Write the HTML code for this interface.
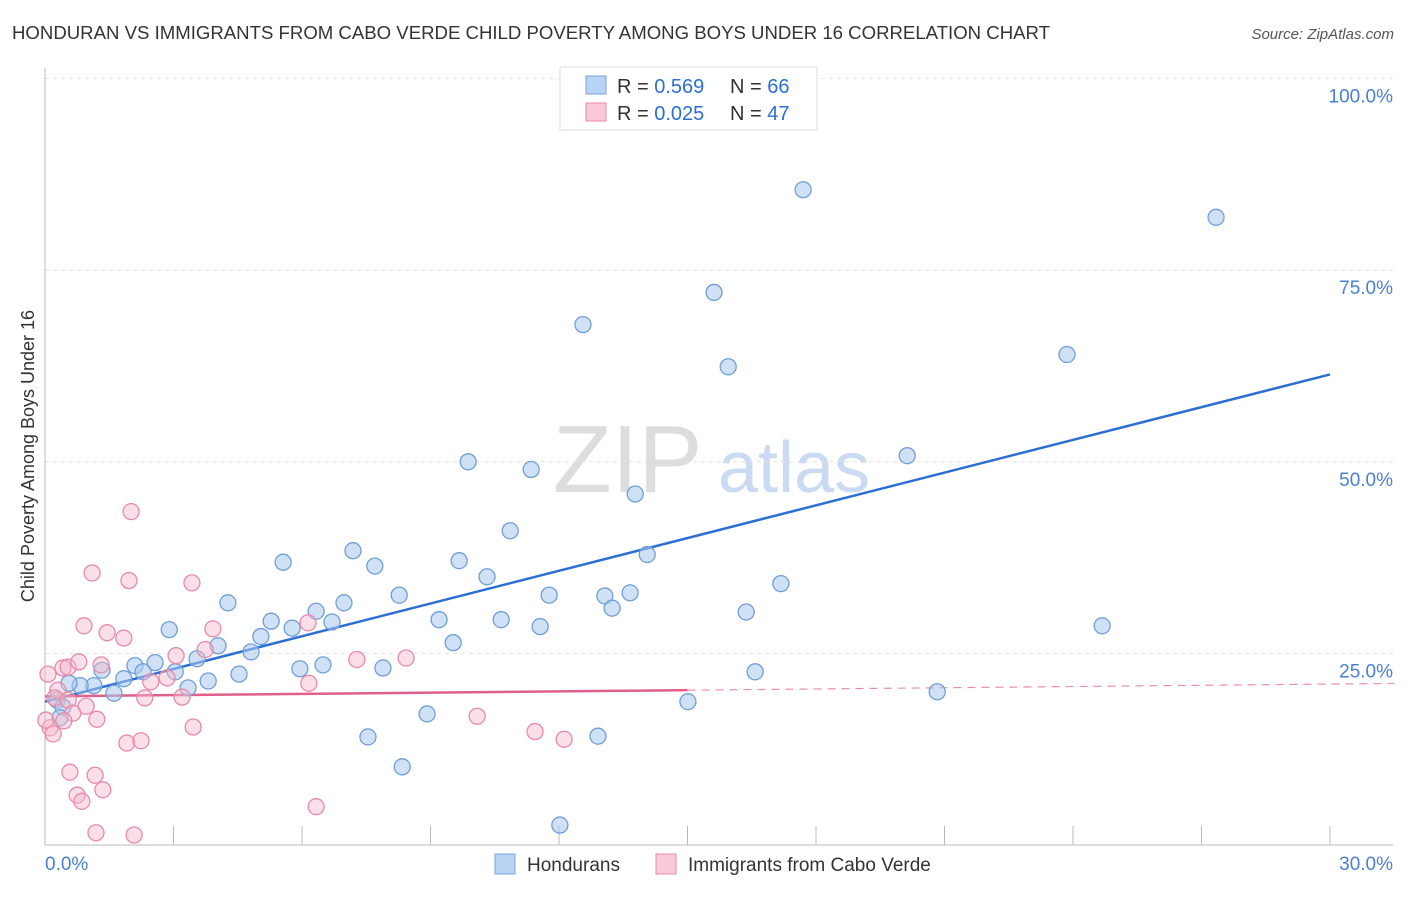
<!DOCTYPE html>
<html><head><meta charset="utf-8"><style>
body{margin:0;background:#fff;font-family:"Liberation Sans",sans-serif;}
svg text{font-family:"Liberation Sans",sans-serif;}
</style></head><body>
<svg id="chart" width="1406" height="892" xmlns="http://www.w3.org/2000/svg">
<text x="12" y="39" font-size="18" fill="#333" textLength="1038" lengthAdjust="spacingAndGlyphs">HONDURAN VS IMMIGRANTS FROM CABO VERDE CHILD POVERTY AMONG BOYS UNDER 16 CORRELATION CHART</text>
<text x="1394" y="39" font-size="15" fill="#555" text-anchor="end" font-style="italic">Source: ZipAtlas.com</text>
<text transform="translate(34,456) rotate(-90)" font-size="18" fill="#333" text-anchor="middle">Child Poverty Among Boys Under 16</text>
<g>
<text x="553" y="492" font-size="96" fill="#ddd" font-family="Liberation Serif,serif">ZIP</text>
<text x="718" y="492" font-size="72" fill="#c9daf2">atlas</text>
</g>
<g id="grid"></g><g id="axes"></g><g id="trend"></g><g id="pts"></g>
<g>
<rect x="560" y="67" width="257" height="63" fill="#fff" stroke="#ddd"/>
<rect x="586" y="76" width="20" height="18" fill="#b9d3f5" stroke="#7aa6de"/>
<text x="617" y="93" font-size="20" fill="#333">R = <tspan fill="#2b6fd6">0.569</tspan></text>
<text x="730" y="93" font-size="20" fill="#333">N = <tspan fill="#2b6fd6">66</tspan></text>
<rect x="586" y="103" width="20" height="18" fill="#f9c9d8" stroke="#e88aa8"/>
<text x="617" y="120" font-size="20" fill="#333">R = <tspan fill="#2b6fd6">0.025</tspan></text>
<text x="730" y="120" font-size="20" fill="#333">N = <tspan fill="#2b6fd6">47</tspan></text>
</g>
<g>
<rect x="495" y="854" width="20" height="20" fill="#b9d3f5" stroke="#7aa6de"/>
<text x="527" y="871" font-size="19" fill="#333">Hondurans</text>
<rect x="656" y="854" width="20" height="20" fill="#f9c9d8" stroke="#e88aa8"/>
<text x="688" y="871" font-size="19" fill="#333">Immigrants from Cabo Verde</text>
</g>
</svg>
<script>
const yTicks=[25,50,75,100];
const yTickLabels=["25.0%","50.0%","75.0%","100.0%"];
const xTicks=[0,3,6,9,12,15,18,21,24,27,30];
const blueX=[17.70,27.34,15.62,12.56,15.95,23.86,9.88,11.35,20.13,13.78,10.86,7.19,5.56,7.70,9.67,14.06,10.32,17.18,8.27,11.77,13.07,13.66,4.27,5.28,6.33,6.98,13.24,9.20,10.65,16.37,6.70,5.77,2.90,11.56,5.04,4.04,9.53,4.81,3.55,2.57,2.10,5.95,6.49,7.89,3.04,2.29,4.53,1.33,3.81,1.84,3.34,1.14,0.82,0.56,1.61,16.58,24.68,20.83,15.01,0.28,0.42,0.35,8.92,7.54,12.91,8.34,12.02];
const blueY=[85.5,81.9,72.1,67.9,62.4,64.0,50.0,49.0,50.8,45.8,41.0,38.4,36.9,36.4,37.1,37.9,35.0,34.1,32.6,32.6,32.5,32.9,31.6,29.2,30.5,31.6,30.9,29.4,29.4,30.4,29.1,28.3,28.1,28.5,27.2,26.0,26.4,25.2,24.3,23.8,23.4,23.0,23.5,23.1,22.6,22.6,22.3,22.8,21.4,21.7,20.5,20.8,20.8,21.1,19.8,22.6,28.6,20.0,18.7,18.9,18.0,16.6,17.1,14.1,14.2,10.2,2.6];
const pinkX=[0.07,0.42,0.54,0.79,1.31,2.01,1.10,1.96,3.43,0.91,1.45,1.84,3.92,6.14,3.06,3.74,2.85,2.47,3.20,2.33,0.30,0.23,0.54,0.96,0.65,1.21,0.44,0.12,0.19,3.46,1.91,2.24,0.58,1.17,0.75,0.86,1.35,1.19,2.08,6.33,10.09,11.44,12.12,7.28,8.43,6.16,0.02];
const pinkY=[22.3,23.1,23.2,23.9,23.5,43.5,35.5,34.5,34.2,28.6,27.7,27.0,28.2,29.0,24.7,25.5,21.8,21.3,19.3,19.2,20.2,19.2,18.9,18.1,17.2,16.4,16.2,15.3,14.5,15.4,13.3,13.6,9.5,9.1,6.5,5.7,7.2,1.6,1.3,5.0,16.8,14.8,13.8,24.2,24.4,21.1,16.3];
const blueTrend=[18.7,61.4];
const pinkTrend=[19.4,20.2];
const NS="http://www.w3.org/2000/svg";
const sx=v=>45+v*(1285/30);
const sy=v=>845-v*7.664;
function mk(tag,attrs,parent){const e=document.createElementNS(NS,tag);for(const k in attrs)e.setAttribute(k,attrs[k]);parent.appendChild(e);return e;}
const grid=document.getElementById('grid'),axes=document.getElementById('axes'),trend=document.getElementById('trend'),pts=document.getElementById('pts');
yTicks.forEach((t,i)=>{
 const l=mk('line',{x1:45,x2:1393,y1:sy(t),y2:sy(t),stroke:'#e2e2e2','stroke-dasharray':'4 4'},grid);
 
 
 const tx=mk('text',{x:1393,y:sy(t)+24,'font-size':19,fill:'#4a7fd4','text-anchor':'end'},grid);
 tx.textContent=yTickLabels[i];
 
 
});
const ax=mk('line',{x1:45,x2:45,y1:68,y2:845,stroke:'#bbb'},axes);


const bx=mk('line',{x1:45,x2:1393,y1:845,y2:845,stroke:'#bbb'},axes);


xTicks.forEach(t=>{
 const l=mk('line',{x1:sx(t),x2:sx(t),y1:826,y2:845,stroke:'#bbb'},axes);
 
 
});
const xl0=mk('text',{x:45,y:870,'font-size':19,fill:'#4a7fd4'},axes);xl0.textContent='0.0%';


const xl1=mk('text',{x:1393,y:870,'font-size':19,fill:'#4a7fd4','text-anchor':'end'},axes);xl1.textContent='30.0%';


blueX.forEach((x,i)=>{
 const c=mk('circle',{cx:sx(x),cy:sy(blueY[i]),r:8,fill:'rgba(169,200,239,0.55)',stroke:'#6f9fd8','stroke-width':1.3},pts);
 
 
});
pinkX.forEach((x,i)=>{
 const c=mk('circle',{cx:sx(x),cy:sy(pinkY[i]),r:8,fill:'rgba(245,184,204,0.45)',stroke:'#e88aa8','stroke-width':1.3},pts);
 
 
});
const bt=mk('line',{x1:sx(0),y1:sy(blueTrend[0]),x2:sx(30),y2:sy(blueTrend[1]),stroke:'#2b6fd6','stroke-width':2.5},trend);


const slope=(pinkTrend[1]-pinkTrend[0])/15;
const pt=mk('line',{x1:sx(0),y1:sy(pinkTrend[0]),x2:sx(15),y2:sy(pinkTrend[1]),stroke:'#e0608a','stroke-width':2.5},trend);


const pd=mk('line',{x1:sx(15),y1:sy(pinkTrend[1]),x2:sx(31.5),y2:sy(pinkTrend[0]+slope*31.5),stroke:'#e0608a','stroke-width':1.2,'stroke-dasharray':'8 6',opacity:0.7},trend);


</script>
</body></html>
